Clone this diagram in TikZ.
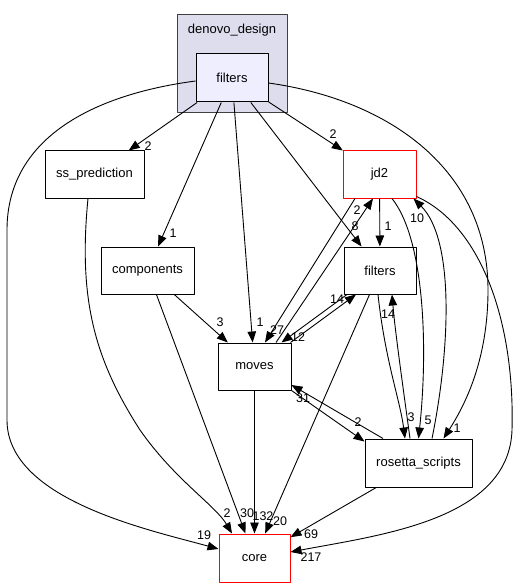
\documentclass[tikz,border=0pt]{standalone}
\usepackage{fontspec}
\setmainfont{Liberation Sans}
\usetikzlibrary{arrows.meta}
\definecolor{clusterbg}{HTML}{DDDDEE}
\definecolor{dirbg}{HTML}{EEEEFF}
\begin{document}
\begin{tikzpicture}[x=1pt, y=-1pt, line join=round, >={Triangle[length=11pt,width=8.5pt]},
	box/.style={draw, line width=1pt, inner sep=0pt, minimum height=47pt, font=\fontsize{13}{15}\selectfont},
	redbox/.style={box, draw=red},
	edge/.style={->, line width=0.9pt},
	lbl/.style={inner sep=0pt, font=\fontsize{12.5}{14}\selectfont}]
	\fill[white] (0,0) rectangle (524,588);
	\useasboundingbox (0,0) rectangle (524,588);
	% cluster denovo_design
	\draw[fill=clusterbg, draw=black!75, line width=1pt] (177,15) rectangle (287,113);
	\node[font=\fontsize{13}{15}\selectfont] (clustername) at (232,30) {denovo\_design};
	% directories
	\node[box, fill=dirbg, minimum width=72pt, minimum height=48pt] (dfilters) at (232,78) {filters};
	\node[box, minimum width=99pt] (ssp) at (94.5,174.5) {ss\_prediction};
	\node[box, minimum width=93pt] (comp) at (147.5,270.5) {components};
	\node[redbox, minimum width=73pt] (jd2) at (379.5,174.5) {jd2};
	\node[box, minimum width=72pt] (filt) at (380,270.5) {filters};
	\node[box, minimum width=73pt] (moves) at (254.5,366.5) {moves};
	\node[box, minimum width=107pt, minimum height=48pt] (ros) at (418.5,463) {rosetta\_scripts};
	\node[redbox, minimum width=71pt, minimum height=48pt] (core) at (254.5,558) {core};
	% straight dependencies
	\draw[edge] (dfilters) -- (ssp);
	\draw[edge] (dfilters) -- (comp);
	\draw[edge] (dfilters) -- (moves);
	\draw[edge] (dfilters) -- (filt);
	\draw[edge] (dfilters) -- (jd2);
	\draw[edge] (comp) -- (moves);
	\draw[edge] (comp) -- (core);
	\draw[edge] (moves) -- (core);
	\draw[edge] (filt) -- (core);
	\draw[edge] (ros) -- (core);
	\draw[edge] (jd2) -- (filt);
	\draw[edge] ([xshift=-24.5pt]jd2.south) -- ([xshift=10.5pt]moves.north);
	\draw[edge] ([xshift=21.5pt]moves.north) -- ([xshift=-6.5pt]jd2.south);
	\draw[edge] ([xshift=-33pt]filt.south) -- ([xshift=27pt]moves.north);
	\draw[edge] ([xshift=-1pt]moves.north east) -- ([xshift=-24pt]filt.south);
	\draw[edge] ([xshift=-35.5pt]ros.north) -- ([yshift=-18.5pt]moves.east);
	\draw[edge] (moves.south east) -- ([yshift=-3pt]ros.north west);
	% curved dependencies
	\draw[edge] ([yshift=-3pt]dfilters.west) .. controls (90,95) and (7,140) .. (7,230) -- (7,420)
		.. controls (7,500) and (150,530) .. ([yshift=9pt]core.west);
	\draw[edge] ([yshift=-5pt]dfilters.east) .. controls (390,100) and (488,170) .. (488,290)
		.. controls (488,360) and (465,405) .. ([xshift=25pt]ros.north);
	\draw[edge] ([xshift=-6.5pt]ssp.south) .. controls (78,300) and (95,360) .. (140,430)
		.. controls (175,480) and (215,505) .. ([xshift=-22.5pt]core.north);
	\draw[edge] ([xshift=-2pt]filt.south) .. controls (385,360) and (400,400) .. ([xshift=-13.5pt]ros.north);
	\draw[edge] ([xshift=-8.5pt]ros.north) .. controls (402,380) and (395,330) .. ([xshift=12pt]filt.south);
	\draw[edge] ([xshift=12.5pt]jd2.south) .. controls (425,240) and (428,350) .. (ros.north);
	\draw[edge] ([xshift=13.5pt]ros.north) .. controls (450,350) and (455,240) .. ([xshift=-3pt]jd2.south east);
	\draw[edge] ([yshift=2pt]jd2.south east) .. controls (480,225) and (515,320) .. (512,430)
		.. controls (509,520) and (380,535) .. ([yshift=6pt]core.east);
	% edge labels
	\foreach \x/\y/\t [count=\i] in {148/146/2, 173/233/1, 260/322/1, 355/226/8, 333/134/2, 457/428/1,
		204/535/19, 227/513/2, 247/513/30, 263/516/132, 280/521/20, 311/534/69, 311/557/217,
		220/322/3, 277/330/27, 298/337/12, 337/299/14, 357/210/2, 388/226/1, 417/218/10,
		388/314/14, 411/417/3, 428/420/5, 303/398/31, 358/422/2}
	\node[lbl] (lab\i) at (\x,\y) {\t};
\end{tikzpicture}
\end{document}
